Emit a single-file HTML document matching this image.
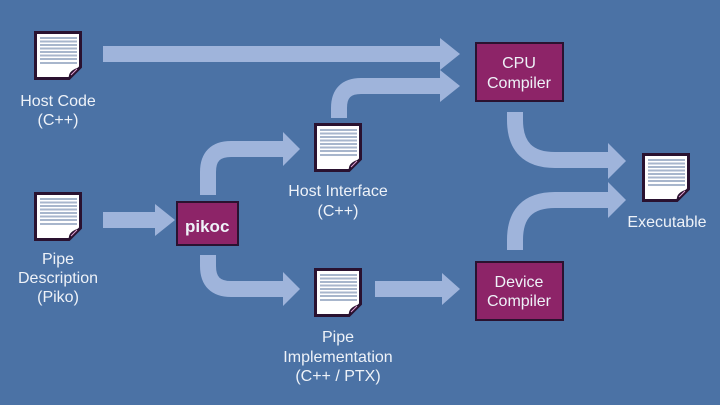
<!DOCTYPE html>
<html><head><meta charset="utf-8"><style>
html,body{margin:0;padding:0;background:#4b72a5;}
svg{display:block}
text{font-family:"Liberation Sans",sans-serif;fill:#eef2f8;font-size:16px;text-anchor:middle}
</style></head><body>
<svg width="720" height="405" viewBox="0 0 720 405" xmlns="http://www.w3.org/2000/svg">
<defs>
<g id="doc">
<path d="M1.5 1.5 H46.5 V36 L35 47.5 H1.5 Z" fill="#fff" stroke="#2a1230" stroke-width="3"/>
<g stroke="#a8b6cc" stroke-width="2">
<line x1="6" y1="7" x2="43" y2="7"/><line x1="6" y1="10.5" x2="43" y2="10.5"/>
<line x1="6" y1="14" x2="43" y2="14"/><line x1="6" y1="17.5" x2="43" y2="17.5"/>
<line x1="6" y1="21" x2="43" y2="21"/><line x1="6" y1="24.5" x2="43" y2="24.5"/>
<line x1="6" y1="28" x2="43" y2="28"/><line x1="6" y1="32" x2="43" y2="32"/>
</g>
<path d="M46.5 36 L35 47.5 C34 42 38 38 46.5 36 Z" fill="#2a1230"/>
<path d="M43 38 L37 44" stroke="#e0a0d0" stroke-width="1"/>
</g>
</defs>
<g fill="#9fb4db" stroke="none">
<rect x="103" y="46" width="340" height="16"/>
<polygon points="440,38 460,54 440,70"/>
<path d="M339 118 V108 Q339 86 361 86 H443" fill="none" stroke="#9fb4db" stroke-width="16"/>
<polygon points="440,70 460,86 440,102"/>
<rect x="103" y="212" width="55" height="16"/>
<polygon points="155,204 175,220 155,236"/>
<path d="M208 195 V172 Q208 149 231 149 H286" fill="none" stroke="#9fb4db" stroke-width="16"/>
<polygon points="283,132 300,149 283,166"/>
<path d="M208 255 V266 Q208 289 231 289 H286" fill="none" stroke="#9fb4db" stroke-width="16"/>
<polygon points="283,272 300,289 283,306"/>
<rect x="375" y="281" width="70" height="16"/>
<polygon points="442,273 460,289 442,305"/>
<path d="M515 112 V120 Q515 160 555 160 H611" fill="none" stroke="#9fb4db" stroke-width="16"/>
<polygon points="608,143 626,161 608,179"/>
<path d="M515 250 V240 Q515 200 555 200 H611" fill="none" stroke="#9fb4db" stroke-width="16"/>
<polygon points="608,182 626,200 608,218"/>
</g>
<rect x="476" y="43" width="87" height="58" fill="#8d2468" stroke="#2a1230" stroke-width="2"/>
<text x="519" y="68">CPU</text><text x="519" y="88">Compiler</text>
<rect x="476" y="262" width="87" height="58" fill="#8d2468" stroke="#2a1230" stroke-width="2"/>
<text x="519" y="287">Device</text><text x="519" y="306">Compiler</text>
<rect x="177" y="202" width="61" height="43" fill="#8d2468" stroke="#2a1230" stroke-width="2"/>
<text x="185" y="232" style="font-size:17px;font-weight:bold;text-anchor:start">pikoc</text>
<use href="#doc" x="34" y="31"/>
<use href="#doc" x="34" y="192"/>
<use href="#doc" x="314" y="123"/>
<use href="#doc" x="314" y="268"/>
<use href="#doc" x="642" y="153"/>
<text x="58" y="106">Host Code</text><text x="58" y="125">(C++)</text>
<text x="58" y="264">Pipe</text><text x="58" y="283">Description</text><text x="58" y="302">(Piko)</text>
<text x="338" y="196">Host Interface</text><text x="338" y="216">(C++)</text>
<text x="338" y="342">Pipe</text><text x="338" y="362">Implementation</text><text x="338" y="381">(C++ / PTX)</text>
<text x="667" y="227">Executable</text>
</svg>
</body></html>
